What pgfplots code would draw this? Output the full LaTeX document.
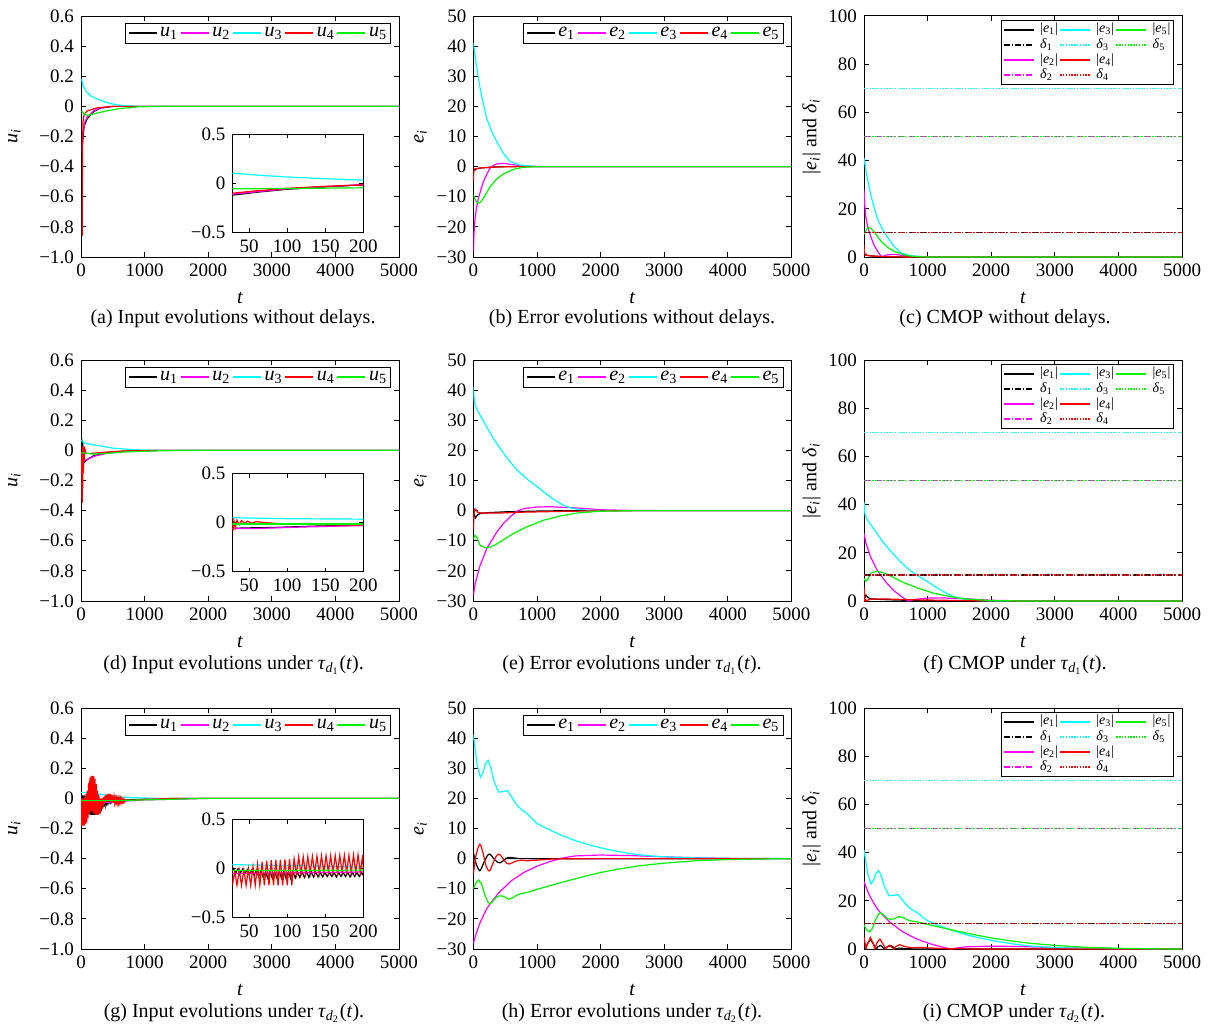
\documentclass[border=0pt]{standalone}
\usepackage{fontspec}
\setmainfont{Liberation Serif}
\usepackage{pgfplots}
\pgfplotsset{compat=1.18}
\definecolor{cyan}{rgb}{0,1,1}
\definecolor{magenta}{rgb}{1,0,1}
\definecolor{green}{rgb}{0,0.95,0}
\definecolor{red}{rgb}{1,0,0}

\newcommand{\taud}[1]{\textit{τ}\textsubscript{\textit{d}\textsubscript{#1}}(\textit{t})}
\newcommand{\capfont}{\fontsize{10}{12}\selectfont}

\pgfplotsset{
  base/.style={
    scale only axis, width=159pt, height=120.5pt,
    xmin=0, xmax=5000, scaled ticks=false,
    xtick={0,1000,2000,3000,4000,5000},
    xticklabels={0,1000,2000,3000,4000,5000},
    tick label style={font=\fontsize{9.5}{10}\selectfont},
    label style={font=\fontsize{10}{12}\selectfont},
    xlabel={\textit{t}},
    x label style={at={(axis description cs:0.5,0)}, anchor=center, yshift=-20.5pt},
    axis line style={line width=0.5pt},
    tick style={line width=0.5pt, black},
    major tick length=2.5pt,
    tick align=inside,
    every axis plot/.append style={line width=0.6pt},
    legend cell align=left,
  },
  uax/.style={base, ymin=-1, ymax=0.6,
    ytick={-1,-0.8,-0.6,-0.4,-0.2,0,0.2,0.4,0.6},
    yticklabels={−1.0,−0.8,−0.6,−0.4,−0.2,0,0.2,0.4,0.6},
    ylabel={\textit{u}\textsubscript{\textit{i}}},
    y label style={at={(axis description cs:-0.21,0.5)}, anchor=center}},
  eax/.style={base, ymin=-30, ymax=50,
    ytick={-30,-20,-10,0,10,20,30,40,50},
    yticklabels={−30,−20,−10,0,10,20,30,40,50},
    ylabel={\textit{e}\textsubscript{\textit{i}}},
    y label style={at={(axis description cs:-0.167,0.5)}, anchor=center}},
  cax/.style={base, ymin=0, ymax=100,
    ytick={0,20,40,60,80,100},
    yticklabels={0,20,40,60,80,100},
    ylabel={|\textit{e}\textsubscript{\textit{i}}| and \textit{δ}\textsubscript{\textit{i}}},
    y label style={at={(axis description cs:-0.165,0.5)}, anchor=center}},
  inset/.style={scale only axis, width=65.5pt, height=49pt,
    xmin=28, xmax=200, ymin=-0.5, ymax=0.5, scaled ticks=false,
    xtick={50,100,150,200}, xticklabels={50,100,150,200},
    ytick={-0.5,0,0.5}, yticklabels={−0.5,0,0.5},
    tick label style={font=\fontsize{9.5}{10}\selectfont},
    axis background/.style={fill=white},
    axis line style={line width=0.5pt},
    tick style={line width=0.5pt, black},
    major tick length=2pt, tick align=inside,
    every axis plot/.append style={line width=0.6pt}},
  ulegend/.style={legend columns=5,
    legend style={at={(0.975,0.97)}, anchor=north east,
      font=\fontsize{10}{11}\selectfont, inner sep=1pt,
      nodes={inner sep=0.8pt},
      /tikz/every odd column/.append style={column sep=0.5pt}},
    legend image code/.code={\draw[##1, line width=1pt] (0pt,0pt) -- (14pt,0pt);}},
  clegend/.style={legend columns=3,
    legend style={at={(0.975,0.985)}, anchor=north east,
      font=\fontsize{7}{8}\selectfont, inner sep=1pt,
      nodes={inner sep=0.6pt},
      /tikz/every odd column/.append style={column sep=2pt}},
    legend image code/.code={\draw[##1, line width=1pt] (0pt,0pt) -- (15pt,0pt);}},
  dd/.style={dash pattern=on 3pt off 1pt on 0.6pt off 1pt},
  dt/.style={dash pattern=on 0.7pt off 0.7pt},
}

% legend for CMOP panels (row-wise order reproduces column-major MATLAB legend)
\newcommand{\cmoplegend}{%
  \addlegendimage{black}\addlegendentry{|\textit{e}\textsubscript{1}|}
  \addlegendimage{cyan}\addlegendentry{|\textit{e}\textsubscript{3}|}
  \addlegendimage{green}\addlegendentry{|\textit{e}\textsubscript{5}|}
  \addlegendimage{black,dd}\addlegendentry{\textit{δ}\textsubscript{1}}
  \addlegendimage{cyan,dt}\addlegendentry{\textit{δ}\textsubscript{3}}
  \addlegendimage{green,dt}\addlegendentry{\textit{δ}\textsubscript{5}}
  \addlegendimage{magenta}\addlegendentry{|\textit{e}\textsubscript{2}|}
  \addlegendimage{red}\addlegendentry{|\textit{e}\textsubscript{4}|}
  \addlegendimage{empty legend}\addlegendentry{}
  \addlegendimage{magenta,dd}\addlegendentry{\textit{δ}\textsubscript{2}}
  \addlegendimage{red,dt}\addlegendentry{\textit{δ}\textsubscript{4}}
  \addlegendimage{empty legend}\addlegendentry{}
}

\begin{document}
\begin{tikzpicture}
\useasboundingbox (0pt,0pt) rectangle (604pt,-516pt);

%% ================= (a) =================
\begin{axis}[uax, ulegend, at={(40.5pt,-128.5pt)}, anchor=south west]
\addplot[black] coordinates {(18,-0.5) (22,-0.25) (50,-0.13) (100,-0.08) (200,-0.035) (300,-0.012) (500,0) (5000,0)};
\addlegendentry{\textit{u}\textsubscript{1}}
\addplot[magenta] coordinates {(18,-0.3) (28,-0.18) (55,-0.11) (100,-0.07) (200,-0.03) (300,-0.01) (500,0) (5000,0)};
\addlegendentry{\textit{u}\textsubscript{2}}
\addplot[cyan] coordinates {(10,0.18) (30,0.14) (80,0.1) (150,0.07) (300,0.04) (450,0.02) (600,0.008) (900,0) (5000,0)};
\addlegendentry{\textit{u}\textsubscript{3}}
\addplot[red] coordinates {(20,-0.86) (22,-0.5) (25,-0.25) (32,-0.1) (50,-0.05) (100,-0.03) (250,-0.01) (500,0) (5000,0)};
\addlegendentry{\textit{u}\textsubscript{4}}
\addplot[green] coordinates {(10,-0.03) (50,-0.05) (100,-0.06) (200,-0.05) (400,-0.03) (600,-0.015) (900,-0.003) (1200,0) (5000,0)};
\addlegendentry{\textit{u}\textsubscript{5}}
\end{axis}
\begin{axis}[inset, at={(116.2pt,-116.2pt)}, anchor=south west]
\addplot[black] coordinates {(28,-0.12) (60,-0.09) (100,-0.06) (150,-0.035) (200,-0.015)};
\addplot[magenta] coordinates {(28,-0.11) (60,-0.085) (100,-0.055) (150,-0.032) (200,-0.012)};
\addplot[cyan] coordinates {(28,0.105) (60,0.085) (100,0.065) (150,0.048) (200,0.033)};
\addplot[red] coordinates {(28,-0.1) (60,-0.075) (100,-0.05) (150,-0.03) (200,-0.015)};
\addplot[green] coordinates {(28,-0.055) (100,-0.052) (200,-0.045)};
\end{axis}

%% ================= (b) =================
\begin{axis}[eax, ulegend, at={(236.7pt,-128.5pt)}, anchor=south west]
\addplot[black] coordinates {(0,0) (5,-1) (15,-1.3) (40,-0.8) (100,-0.5) (250,-0.2) (500,0) (5000,0)};
\addlegendentry{\textit{e}\textsubscript{1}}
\addplot[magenta] coordinates {(0,-28) (10,-22) (26,-17) (50,-13.5) (79,-10.5) (120,-7.5) (157,-5) (210,-2.5) (262,-0.5) (320,0.5) (367,0.9) (472,1.1) (629,0.6) (838,0.2) (1100,0) (5000,0)};
\addlegendentry{\textit{e}\textsubscript{2}}
\addplot[cyan] coordinates {(0,41) (50,33) (105,26) (160,20.5) (210,16) (290,11.5) (367,8.3) (472,4.4) (576,1.7) (734,0.5) (1000,0) (5000,0)};
\addlegendentry{\textit{e}\textsubscript{3}}
\addplot[red] coordinates {(0,-5) (3,-3) (8,-1.5) (20,-0.8) (80,-0.5) (200,-0.3) (400,-0.1) (700,0) (5000,0)};
\addlegendentry{\textit{e}\textsubscript{4}}
\addplot[green] coordinates {(0,-9.4) (20,-10.5) (50,-11.8) (79,-12.2) (110,-11.8) (157,-10.5) (210,-8.6) (262,-6.7) (367,-4.1) (472,-2.4) (629,-0.9) (786,-0.2) (1000,0) (5000,0)};
\addlegendentry{\textit{e}\textsubscript{5}}
\end{axis}

%% ================= (c) =================
\begin{axis}[cax, clegend, at={(432pt,-128.5pt)}, anchor=south west]
\cmoplegend
\addplot[black, forget plot] coordinates {(0,0) (5,1) (15,1.3) (40,0.8) (100,0.5) (250,0.2) (500,0) (5000,0)};
\addplot[magenta, forget plot] coordinates {(0,28) (10,22) (26,17) (50,13.5) (79,10.5) (120,7.5) (157,5) (210,2.5) (262,0.5) (291,0) (320,0.5) (367,0.9) (472,1.1) (629,0.6) (838,0.2) (1100,0) (5000,0)};
\addplot[cyan, forget plot] coordinates {(0,41) (50,33) (105,26) (160,20.5) (210,16) (290,11.5) (367,8.3) (472,4.4) (576,1.7) (734,0.5) (1000,0) (5000,0)};
\addplot[red, forget plot] coordinates {(0,5) (3,3) (8,1.5) (20,0.8) (80,0.5) (200,0.3) (400,0.1) (700,0) (5000,0)};
\addplot[green, forget plot] coordinates {(0,9.4) (20,10.5) (50,11.8) (79,12.2) (110,11.8) (157,10.5) (210,8.6) (262,6.7) (367,4.1) (472,2.4) (629,0.9) (786,0.2) (1000,0) (5000,0)};
\addplot[black, dd, forget plot] coordinates {(0,10.2) (5000,10.2)};
\addplot[red, dt, forget plot] coordinates {(0,10.2) (5000,10.2)};
\addplot[magenta, dd, forget plot] coordinates {(0,50) (5000,50)};
\addplot[green, dt, forget plot] coordinates {(0,50) (5000,50)};
\addplot[cyan, dt, forget plot] coordinates {(0,70) (5000,70)};
\end{axis}

%% ================= (d) =================
\begin{axis}[uax, ulegend, at={(40.5pt,-300.5pt)}, anchor=south west]
\addplot[black] coordinates {(10,0.08) (14,-0.05) (18,0.07) (22,-0.08) (26,0.05) (32,-0.09) (50,-0.08) (100,-0.06) (200,-0.035) (400,-0.015) (700,-0.005) (1200,0) (5000,0)};
\addlegendentry{\textit{u}\textsubscript{1}}
\addplot[magenta] coordinates {(10,-0.09) (50,-0.07) (100,-0.06) (200,-0.04) (400,-0.02) (700,-0.008) (1200,0) (5000,0)};
\addlegendentry{\textit{u}\textsubscript{2}}
\addplot[cyan] coordinates {(6,0.07) (20,0.06) (50,0.05) (150,0.04) (300,0.03) (500,0.015) (800,0.005) (1200,0) (5000,0)};
\addlegendentry{\textit{u}\textsubscript{3}}
\addplot[red] coordinates {(10,-0.02) (18,-0.35) (22,0.02) (27,-0.25) (32,0.03) (37,-0.15) (42,0.02) (48,-0.08) (60,0.01) (80,-0.02) (150,-0.02) (300,-0.015) (600,-0.005) (1200,0) (5000,0)};
\addlegendentry{\textit{u}\textsubscript{4}}
\addplot[green] coordinates {(6,-0.015) (100,-0.02) (200,-0.025) (400,-0.02) (700,-0.01) (1200,-0.003) (1800,0) (5000,0)};
\addlegendentry{\textit{u}\textsubscript{5}}
\end{axis}
\begin{axis}[inset, at={(116.2pt,-285.8pt)}, anchor=south west]
\addplot[black] coordinates {(28,-0.03) (30,-0.06) (40,-0.055) (80,-0.05) (140,-0.035) (200,-0.025)};
\addplot[magenta] coordinates {(28,-0.06) (60,-0.06) (120,-0.045) (200,-0.03)};
\addplot[cyan] coordinates {(28,0.05) (100,0.04) (200,0.035)};
\addplot[red] coordinates {(28,0.0) (29,-0.08) (30,0.02) (32,-0.05) (34,0.025) (37,-0.02) (40,0.02) (44,-0.01) (48,0.015) (53,-0.005) (60,0.01) (70,0.0) (90,-0.01) (140,-0.02) (200,-0.025)};
\addplot[green] coordinates {(28,-0.015) (200,-0.015)};
\end{axis}

%% ================= (e) =================
\begin{axis}[eax, ulegend, at={(236.7pt,-300.5pt)}, anchor=south west]
\addplot[black] coordinates {(0,0) (10,-1) (30,-2.5) (60,-1.5) (100,-1) (200,-0.7) (500,-0.4) (1000,-0.15) (1500,0) (5000,0)};
\addlegendentry{\textit{e}\textsubscript{1}}
\addplot[magenta] coordinates {(0,-28) (30,-24) (105,-18.2) (210,-12.6) (367,-7.1) (470,-4.3) (576,-2.1) (681,-0.2) (800,0.7) (996,1.2) (1205,1.3) (1400,1.1) (1624,0.9) (1991,0.3) (2500,0.05) (3000,0) (5000,0)};
\addlegendentry{\textit{e}\textsubscript{2}}
\addplot[cyan] coordinates {(0,41) (15,36) (52,33.7) (150,30) (314,23.9) (450,19.8) (576,16.2) (700,13.2) (838,10.6) (1000,8) (1100,6.3) (1205,4.6) (1300,3.2) (1415,1.8) (1500,1.1) (1624,0.5) (1800,0.15) (2000,0) (5000,0)};
\addlegendentry{\textit{e}\textsubscript{3}}
\addplot[red] coordinates {(0,-6) (8,-1.5) (20,0.5) (40,0.3) (70,-0.6) (150,-0.8) (400,-0.8) (800,-0.5) (1500,-0.2) (2500,0) (5000,0)};
\addlegendentry{\textit{e}\textsubscript{4}}
\addplot[green] coordinates {(0,-9.3) (26,-8.2) (52,-8.8) (80,-10.2) (105,-11.5) (183,-12.3) (262,-12.1) (340,-11.4) (419,-10.4) (520,-9) (629,-7.6) (838,-5.4) (1100,-3.2) (1362,-1.8) (1624,-0.8) (1991,-0.2) (2500,0) (5000,0)};
\addlegendentry{\textit{e}\textsubscript{5}}
\end{axis}

%% ================= (f) =================
\begin{axis}[cax, clegend, at={(432pt,-300.5pt)}, anchor=south west]
\cmoplegend
\addplot[black, forget plot] coordinates {(0,0) (10,1) (30,2.5) (60,1.5) (100,1) (200,0.7) (500,0.4) (1000,0.15) (1500,0) (5000,0)};
\addplot[magenta, forget plot] coordinates {(0,28) (30,24) (105,18.2) (210,12.6) (367,7.1) (470,4.3) (576,2.1) (681,0.2) (707,0) (800,0.7) (996,1.2) (1205,1.3) (1400,1.1) (1624,0.9) (1991,0.3) (2500,0.05) (3000,0) (5000,0)};
\addplot[cyan, forget plot] coordinates {(0,41) (15,36) (52,33.7) (150,30) (314,23.9) (450,19.8) (576,16.2) (700,13.2) (838,10.6) (1000,8) (1100,6.3) (1205,4.6) (1300,3.2) (1415,1.8) (1500,1.1) (1624,0.5) (1800,0.15) (2000,0) (5000,0)};
\addplot[red, forget plot] coordinates {(0,6) (8,1.5) (14,0) (20,0.5) (40,0.3) (55,0) (70,0.6) (150,0.8) (400,0.8) (800,0.5) (1500,0.2) (2500,0) (5000,0)};
\addplot[green, forget plot] coordinates {(0,9.3) (26,8.2) (52,8.8) (80,10.2) (105,11.5) (183,12.3) (262,12.1) (340,11.4) (419,10.4) (520,9) (629,7.6) (838,5.4) (1100,3.2) (1362,1.8) (1624,0.8) (1991,0.2) (2500,0) (5000,0)};
\addplot[black, dd, forget plot] coordinates {(0,10.8) (5000,10.8)};
\addplot[red, dt, forget plot] coordinates {(0,10.8) (5000,10.8)};
\addplot[magenta, dd, forget plot] coordinates {(0,50) (5000,50)};
\addplot[green, dt, forget plot] coordinates {(0,50) (5000,50)};
\addplot[cyan, dt, forget plot] coordinates {(0,70) (5000,70)};
\end{axis}

%% ================= (g) =================
\begin{axis}[uax, ulegend, at={(40.5pt,-474.5pt)}, anchor=south west]
\addplot[black] coordinates {(0,-0.03) (10,0.02) (20,-0.037) (30,0.02) (40,-0.043) (50,0.02) (60,-0.05) (70,0.015) (80,-0.075) (90,0.005) (100,-0.1) (110,-0.002) (120,-0.104) (130,-0.006) (140,-0.108) (150,-0.01) (160,-0.11) (170,-0.012) (180,-0.11) (190,-0.014) (200,-0.11) (210,-0.016) (220,-0.11) (230,-0.018) (240,-0.11) (250,-0.02) (260,-0.108) (270,-0.016) (280,-0.104) (290,-0.012) (300,-0.1) (310,-0.008) (320,-0.084) (330,-0.004) (340,-0.068) (350,0.0) (360,-0.054) (370,0.0) (380,-0.042) (390,0.0) (400,-0.03) (410,-0.001) (420,-0.028) (430,-0.002) (440,-0.026) (450,-0.003) (460,-0.024) (470,-0.004) (480,-0.022) (490,-0.005) (500,-0.02) (550,-0.012) (700,-0.01) (1000,-0.005) (1500,0) (5000,0)};
\addlegendentry{\textit{u}\textsubscript{1}}
\addplot[magenta] coordinates {(0,-0.05) (100,-0.04) (300,-0.03) (600,-0.02) (1000,-0.01) (1500,-0.005) (2000,0) (5000,0)};
\addlegendentry{\textit{u}\textsubscript{2}}
\addplot[cyan] coordinates {(0,0.04) (200,0.035) (400,0.02) (600,0.01) (800,0.005) (1200,0) (5000,0)};
\addlegendentry{\textit{u}\textsubscript{3}}
\addplot[red] coordinates {(0,0.0) (10,-0.18) (20,0.0) (30,-0.18) (40,0.0) (50,-0.18) (60,0.01) (70,-0.17) (80,0.03) (90,-0.16) (100,0.05) (110,-0.133) (120,0.103) (130,-0.1) (140,0.137) (150,-0.087) (160,0.15) (170,-0.085) (180,0.15) (190,-0.095) (200,0.15) (210,-0.103) (220,0.13) (230,-0.11) (240,0.097) (250,-0.11) (260,0.05) (270,-0.108) (280,0.025) (290,-0.103) (300,0.0) (310,-0.09) (320,0.0) (330,-0.07) (340,0.0) (350,-0.053) (360,0.01) (370,-0.038) (380,0.02) (390,-0.028) (400,0.025) (410,-0.023) (420,0.03) (430,-0.02) (440,0.03) (450,-0.02) (460,0.03) (470,-0.023) (480,0.025) (490,-0.028) (500,0.02) (510,-0.03) (520,0.01) (530,-0.03) (540,0.0) (550,-0.03) (560,0.0) (570,-0.03) (580,0.0) (590,-0.03) (600,0.0) (610,-0.029) (620,-0.002) (630,-0.027) (640,-0.004) (650,-0.025) (660,-0.006) (670,-0.024) (680,-0.008) (690,-0.021) (700,-0.01) (800,-0.012) (1000,-0.006) (1300,-0.002) (1600,0) (5000,0)};
\addlegendentry{\textit{u}\textsubscript{4}}
\addplot[green] coordinates {(0,-0.015) (500,-0.015) (1000,-0.01) (1500,-0.005) (2000,0) (5000,0)};
\addlegendentry{\textit{u}\textsubscript{5}}
\end{axis}
\begin{axis}[inset, at={(116.2pt,-458.8pt)}, anchor=south west]
\addplot[black] coordinates {(28,-0.02) (29.5,0.0) (32.5,-0.04) (35.5,0.0) (38.5,-0.045) (41.5,-0.005) (44.5,-0.05) (47.5,-0.01) (50.5,-0.06) (53.5,-0.015) (56.5,-0.07) (59.5,-0.02) (62.5,-0.08) (65.5,-0.025) (68.5,-0.09) (71.5,-0.03) (74.5,-0.1) (77.5,-0.03) (80.5,-0.1) (83.5,-0.03) (86.5,-0.1) (89.5,-0.03) (92.5,-0.1) (95.5,-0.03) (98.5,-0.1) (101.5,-0.03) (104.5,-0.1) (107.5,-0.03) (110.5,-0.095) (113.5,-0.035) (116.5,-0.09) (119.5,-0.035) (122.5,-0.09) (125.5,-0.035) (128.5,-0.09) (131.5,-0.035) (134.5,-0.085) (137.5,-0.035) (140.5,-0.085) (143.5,-0.04) (146.5,-0.085) (149.5,-0.04) (152.5,-0.08) (155.5,-0.04) (158.5,-0.08) (161.5,-0.04) (164.5,-0.085) (167.5,-0.04) (170.5,-0.08) (173.5,-0.04) (176.5,-0.08) (179.5,-0.04) (182.5,-0.085) (185.5,-0.04) (188.5,-0.08) (191.5,-0.04) (194.5,-0.08) (197.5,-0.04) (200,-0.07)};
\addplot[magenta] coordinates {(28,-0.05) (200,-0.035)};
\addplot[cyan] coordinates {(28,0.04) (120,0.03) (200,0.015)};
\addplot[red] coordinates {(28,-0.17) (31,-0.026) (34,-0.17) (37,-0.017) (40,-0.17) (43,-0.01) (46,-0.17) (49,0.0) (52,-0.17) (55,0.02) (58,-0.17) (61,0.044) (64,-0.17) (67,0.068) (70,-0.17) (73,0.082) (76,-0.17) (79,0.085) (82,-0.17) (85,0.088) (88,-0.17) (91,0.09) (94,-0.17) (97,0.094) (100,-0.17) (103,0.097) (106,-0.17) (109,0.1) (112,-0.06) (115,0.12) (118,-0.055) (121,0.121) (124,-0.05) (127,0.123) (130,-0.05) (133,0.125) (136,-0.045) (139,0.127) (142,-0.045) (145,0.13) (148,-0.04) (151,0.13) (154,-0.04) (157,0.132) (160,-0.04) (163,0.133) (166,-0.04) (169,0.135) (172,-0.04) (175,0.136) (178,-0.04) (181,0.137) (184,-0.04) (187,0.138) (190,-0.04) (193,0.14) (196,-0.04) (199,0.14) (200,-0.02)};
\addplot[green] coordinates {(28,-0.02) (200,-0.015)};
\end{axis}

%% ================= (h) =================
\begin{axis}[eax, ulegend, at={(236.7pt,-474.5pt)}, anchor=south west]
\addplot[black, smooth] coordinates {(0,2) (40,-1.5) (100,-4) (160,-1.5) (220,1) (260,1.5) (320,0) (370,-1) (420,-1.4) (480,-0.5) (550,0.4) (650,0.2) (800,0) (5000,0)};
\addlegendentry{\textit{e}\textsubscript{1}}
\addplot[magenta] coordinates {(0,-28) (50,-24.5) (100,-21.5) (200,-17) (262,-15) (400,-11.3) (600,-7.3) (800,-4.5) (1000,-2.5) (1200,-1) (1400,0.2) (1600,0.9) (2000,1.2) (2500,1) (3000,0.6) (3500,0.3) (4000,0.1) (5000,0)};
\addlegendentry{\textit{e}\textsubscript{2}}
\addplot[cyan] coordinates {(0,41) (30,36) (60,31) (110,27) (150,28.5) (190,31.5) (230,32.6) (270,30.5) (320,26) (395,22.1) (450,22.2) (535,22.6) (600,20.5) (687,17.7) (760,16.2) (843,15) (920,13.3) (1000,11.7) (1200,9.5) (1400,7.6) (1600,6) (1800,4.7) (2000,3.6) (2200,2.7) (2400,1.9) (2600,1.3) (2800,0.9) (3000,0.6) (3500,0.25) (4000,0.1) (5000,0)};
\addlegendentry{\textit{e}\textsubscript{3}}
\addplot[red, smooth] coordinates {(0,-5) (40,1) (100,4.8) (150,2) (200,-2.5) (250,-4.1) (300,-2) (350,0.5) (400,1.5) (450,0.5) (500,-1) (560,-1.8) (650,-1) (750,-0.5) (850,-0.7) (1000,-0.5) (1300,-0.1) (2000,0) (5000,0)};
\addlegendentry{\textit{e}\textsubscript{4}}
\addplot[green] coordinates {(0,-10) (40,-8) (84,-7.1) (130,-8.5) (180,-12) (230,-14.5) (262,-15) (300,-14.3) (360,-12.8) (419,-12.3) (480,-12.6) (550,-13.5) (620,-13) (690,-12) (734,-11.7) (850,-11.2) (1000,-10.2) (1200,-9) (1400,-7.8) (1600,-6.7) (1800,-5.6) (2000,-4.6) (2300,-3.4) (2600,-2.4) (3000,-1.5) (3500,-0.7) (4000,-0.3) (4500,-0.1) (5000,0)};
\addlegendentry{\textit{e}\textsubscript{5}}
\end{axis}

%% ================= (i) =================
\begin{axis}[cax, clegend, at={(432pt,-474.5pt)}, anchor=south west]
\cmoplegend
\addplot[black, forget plot] coordinates {(0,2) (23,0) (40,1.5) (100,4) (160,1.5) (196,0) (220,1) (260,1.5) (320,0) (370,1) (420,1.4) (480,0.5) (519,0) (550,0.4) (650,0.2) (800,0) (5000,0)};
\addplot[magenta, forget plot] coordinates {(0,28) (50,24.5) (100,21.5) (200,17) (262,15) (400,11.3) (600,7.3) (800,4.5) (1000,2.5) (1200,1) (1367,0) (1400,0.2) (1600,0.9) (2000,1.2) (2500,1) (3000,0.6) (3500,0.3) (4000,0.1) (5000,0)};
\addplot[cyan, forget plot] coordinates {(0,41) (30,36) (60,31) (110,27) (150,28.5) (190,31.5) (230,32.6) (270,30.5) (320,26) (395,22.1) (450,22.2) (535,22.6) (600,20.5) (687,17.7) (760,16.2) (843,15) (920,13.3) (1000,11.7) (1200,9.5) (1400,7.6) (1600,6) (1800,4.7) (2000,3.6) (2200,2.7) (2400,1.9) (2600,1.3) (2800,0.9) (3000,0.6) (3500,0.25) (4000,0.1) (5000,0)};
\addplot[red, forget plot] coordinates {(0,5) (33,0) (40,1) (100,4.8) (150,2) (172,0) (200,2.5) (250,4.1) (300,2) (340,0) (350,0.5) (400,1.5) (450,0.5) (467,0) (500,1) (560,1.8) (650,1) (750,0.5) (850,0.7) (1000,0.5) (1300,0.1) (2000,0) (5000,0)};
\addplot[green, forget plot] coordinates {(0,10) (40,8) (84,7.1) (130,8.5) (180,12) (230,14.5) (262,15) (300,14.3) (360,12.8) (419,12.3) (480,12.6) (550,13.5) (620,13) (690,12) (734,11.7) (850,11.2) (1000,10.2) (1200,9) (1400,7.8) (1600,6.7) (1800,5.6) (2000,4.6) (2300,3.4) (2600,2.4) (3000,1.5) (3500,0.7) (4000,0.3) (4500,0.1) (5000,0)};
\addplot[black, dd, forget plot] coordinates {(0,10.6) (5000,10.6)};
\addplot[red, dt, forget plot] coordinates {(0,10.6) (5000,10.6)};
\addplot[magenta, dd, forget plot] coordinates {(0,50) (5000,50)};
\addplot[green, dt, forget plot] coordinates {(0,50) (5000,50)};
\addplot[cyan, dt, forget plot] coordinates {(0,70) (5000,70)};
\end{axis}

%% ================= captions =================
\node[anchor=base, font=\capfont] at (116.5pt,-161.5pt) {(a) Input evolutions without delays.};
\node[anchor=base, font=\capfont] at (316pt,-161.5pt) {(b) Error evolutions without delays.};
\node[anchor=base, font=\capfont] at (502.5pt,-161.5pt) {(c) CMOP without delays.};
\node[anchor=base, font=\capfont] at (116.8pt,-334.5pt) {(d) Input evolutions under \taud{1}.};
\node[anchor=base, font=\capfont] at (316pt,-334.5pt) {(e) Error evolutions under \taud{1}.};
\node[anchor=base, font=\capfont] at (507.5pt,-334.5pt) {(f) CMOP under \taud{1}.};
\node[anchor=base, font=\capfont] at (117pt,-508.7pt) {(g) Input evolutions under \taud{2}.};
\node[anchor=base, font=\capfont] at (316pt,-508.7pt) {(h) Error evolutions under \taud{2}.};
\node[anchor=base, font=\capfont] at (507pt,-508.7pt) {(i) CMOP under \taud{2}.};
\end{tikzpicture}
\end{document}
